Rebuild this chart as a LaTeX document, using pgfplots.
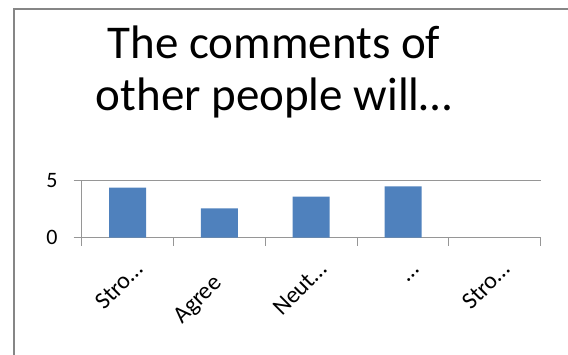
\documentclass[border=0pt]{standalone}
\usepackage{pgfplots}
\pgfplotsset{compat=1.18}
\usepackage{fontspec}
\setmainfont{Carlito}
\definecolor{barblue}{RGB}{79,129,189}
\definecolor{framegray}{RGB}{134,134,134}
\definecolor{axisgray}{RGB}{150,150,150}
\begin{document}
\begin{tikzpicture}
\useasboundingbox (0pt,0pt) rectangle (568pt,355pt);
\clip (0pt,0pt) rectangle (568pt,355pt);
\draw[framegray, line width=1.8pt] (14pt,0pt) -- (14pt,345.7pt) -- (568pt,345.7pt);
\node[anchor=base, inner sep=0pt, font=\fontsize{47}{52}\selectfont] at (274pt,296pt) {The comments of};
\node[anchor=base, inner sep=0pt, font=\fontsize{47}{52}\selectfont] at (274pt,244pt) {other people will…};
\begin{axis}[
  at={(81.7pt,117.3pt)}, anchor=south west,
  scale only axis, width=459pt, height=57.4pt,
  xmin=-0.5, xmax=4.5, ymin=0, ymax=5,
  axis lines*=left,
  axis line style={axisgray, line width=0.9pt},
  ytick={0,5},
  ymajorgrids, grid style={axisgray, line width=0.9pt},
  ytick align=outside, ytick style={draw=axisgray, line width=0.9pt},
  major tick length=8pt,
  xtick={0,1,2,3,4},
  xticklabels={Stro…, Agree\rule{19pt}{0pt}, Neut…, …, Stro…},
  xtick style={draw=none},
  extra x ticks={-0.5,0.5,1.5,2.5,3.5,4.5},
  extra x tick labels={},
  extra x tick style={xtick align=outside, xtick style={draw=axisgray, line width=0.9pt}, grid=none},
  /pgf/number format/assume math mode=true,
  yticklabel style={font=\fontsize{22}{24}\selectfont, anchor=east, inner sep=0pt, xshift=-16pt},
  xticklabel style={font=\fontsize{24}{26}\selectfont, xshift=17pt, yshift=-33pt, rotate=45, anchor=base east, inner sep=0pt},
  clip=false,
]
\addplot[ybar, bar width=37pt, fill=barblue, draw=none] coordinates {(0,4.36) (1,2.56) (2,3.57) (3,4.48)};
\end{axis}
\end{tikzpicture}
\end{document}
